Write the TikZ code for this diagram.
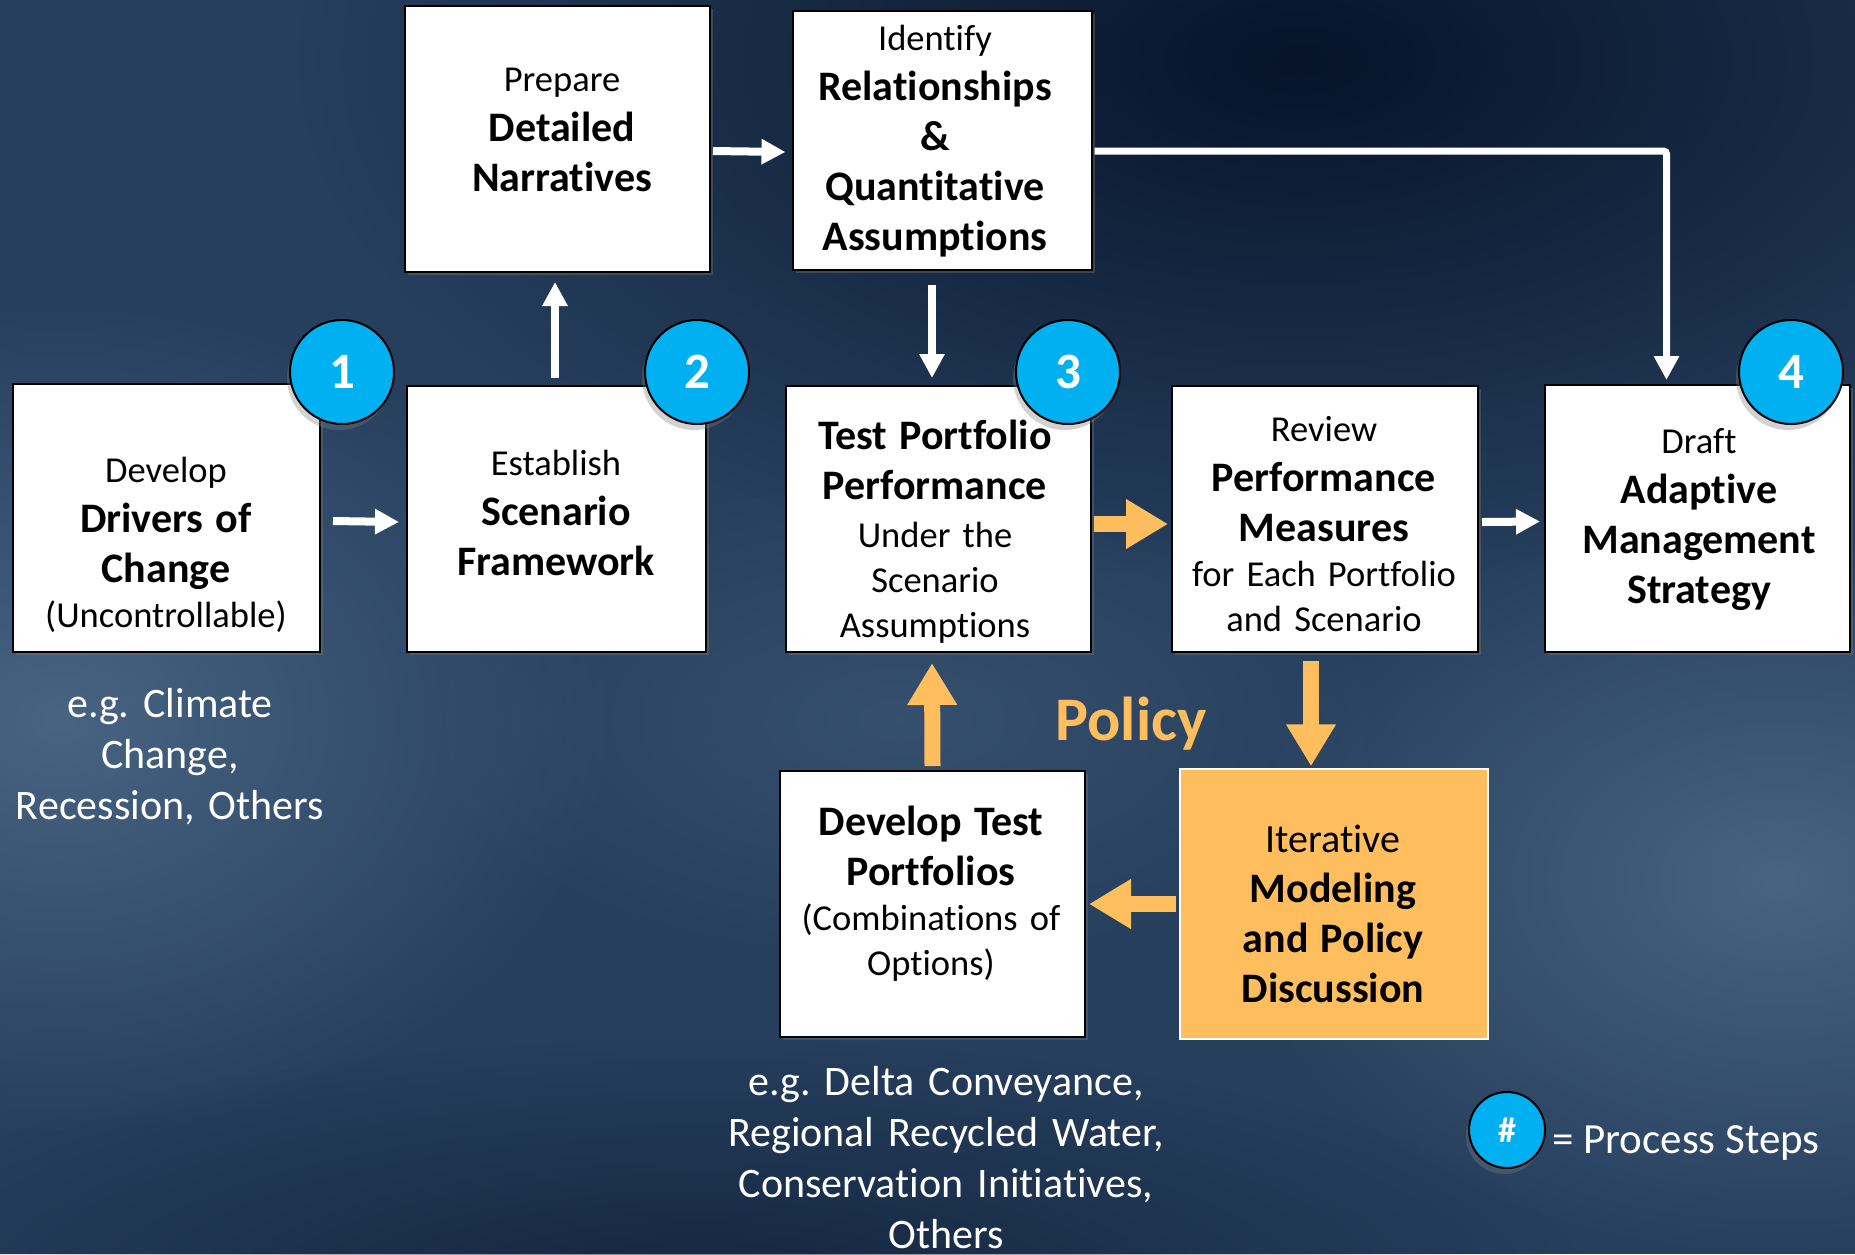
\documentclass[tikz,border=0pt]{standalone}
\usepackage{fontspec}
\setmainfont{Carlito}[Ligatures=NoCommon]
\usetikzlibrary{arrows.meta,shadows,fadings}
\definecolor{bgbase}{HTML}{263F5D}
\definecolor{bgdark}{HTML}{07142A}
\definecolor{bglight}{HTML}{4C6887}
\definecolor{pbblue}{HTML}{00B0F0}
\definecolor{porange}{HTML}{FFBE5E}
\tikzfading[name=softblob, inner color=transparent!0, outer color=transparent!100]
\newcommand\rgf{\mdseries\fontsize{36.5}{45}\selectfont}
\newcommand\rgbf{\mdseries\fontsize{40}{50}\selectfont}
\newcommand\bdf{\bfseries\fontsize{42}{50}\selectfont}
\newcommand\egf{\mdseries\fontsize{42}{51}\selectfont}
\frenchspacing
\begin{document}
\begin{tikzpicture}[x=1pt,y=-1pt,
  boxsty/.style={draw=black, line width=2pt, fill=white, inner sep=0pt,
    drop shadow={shadow xshift=3pt, shadow yshift=-3pt, opacity=0.35}},
  orbox/.style={draw=white, line width=1.5pt, fill=porange, inner sep=0pt},
  txt/.style={text width=300pt, align=center, inner sep=0pt, text=black, font=\rgf},
  wtxt/.style={text width=440pt, align=center, inner sep=0pt, text=white, font=\egf},
  badge/.style={circle, draw=black, line width=2pt, fill=pbblue, minimum size=104pt,
    inner sep=0pt, text=white, font=\bfseries\fontsize{51}{51}\selectfont,
    drop shadow={shadow xshift=-3pt, shadow yshift=-6pt, opacity=0.35}},
  warr/.style={draw=white, line width=8pt, -{Triangle[length=24pt,width=24pt]}},
  wline/.style={draw=white, line width=7pt, rounded corners=3pt, -{Triangle[length=24pt,width=24pt]}},
  oarr/.style={draw=porange, line width=16pt, -{Triangle[length=42pt,width=47pt]}}
]
% background
\useasboundingbox (0,0) rectangle (1855,1254);
\fill[bgbase] (0,0) rectangle (1855,1254);
\fill[bgdark, path fading=softblob] (1300,60) ellipse [x radius=1000, y radius=520];
\fill[bglight, path fading=softblob, opacity=0.9] (60,720) ellipse [x radius=560, y radius=420];
\fill[bglight, path fading=softblob, opacity=0.9] (1780,880) ellipse [x radius=560, y radius=380];
\fill[bgdark, path fading=softblob, opacity=0.6] (700,1300) ellipse [x radius=900, y radius=260];
\fill[bglight, path fading=softblob, opacity=0.4] (900,720) ellipse [x radius=500, y radius=250];

% boxes
\node[boxsty, minimum width=307pt, minimum height=268pt] (b1) at (166.5,518) {};
\node[boxsty, minimum width=305pt, minimum height=266pt] (prep) at (557.5,139) {};
\node[boxsty, minimum width=299pt, minimum height=259pt] (iden) at (942,140) {};
\node[boxsty, minimum width=299pt, minimum height=266pt] (b2) at (556.5,519) {};
\node[boxsty, minimum width=305pt, minimum height=266pt] (b3) at (938.5,519) {};
\node[boxsty, minimum width=306pt, minimum height=266pt] (rev) at (1325,519) {};
\node[boxsty, minimum width=305pt, minimum height=267pt] (b4) at (1697.5,518.5) {};
\node[boxsty, minimum width=305pt, minimum height=266pt] (dev) at (932.5,904) {};
\node[orbox, minimum width=308pt, minimum height=270pt] (iter) at (1334,904) {};

% box texts
\node[txt] (t1) at (166,545) {\rgf Develop\\\bdf Drivers of\\Change\\\rgf (Uncontrollable)};
\node[txt] (tprep) at (562,130) {\rgf Prepare\\\bdf Detailed\\Narratives\par};
\node[txt] (tiden) at (935,141) {\rgf Identify\\\bdf Relationships\\\&\\Quantitative\\Assumptions\par};
\node[txt] (t2) at (556,513) {\rgf Establish\\\bdf Scenario\\Framework\par};
\node[txt] (t3) at (935,532) {\bdf Test Portfolio\\Performance\\[3pt]\rgf Under the\\Scenario\\Assumptions};
\node[txt] (trev) at (1324,524) {\rgf Review\\\bdf Performance\\Measures\\\rgf for Each Portfolio\\and Scenario};
\node[txt] (t4) at (1699,520) {\rgf Draft\\\bdf Adaptive\\Management\\Strategy\par};
\node[txt] (tdev) at (931,894) {\bdf Develop Test\\Portfolios\\\rgf (Combinations of\\Options)};
\node[txt] (titer) at (1333,914) {\rgbf Iterative\\\bdf Modeling\\and Policy\\Discussion\par};

% badges
\node[badge] (c1) at (342,372) {1};
\node[badge] (c2) at (697,372) {2};
\node[badge] (c3) at (1068,372) {3};
\node[badge] (c4) at (1791,372) {4};

% free texts
\node[wtxt] (eg1) at (170,757) {e.g. Climate\\Change,\\Recession, Others};
\node[wtxt] (eg2) at (946,1158) {e.g. Delta Conveyance,\\Regional Recycled Water,\\Conservation Initiatives,\\Others};
\node[text=porange, font=\bfseries\fontsize{62}{62}\selectfont, inner sep=0pt] (pol) at (1131,724) {Policy};

% legend
\node[badge, minimum size=76pt, font=\bfseries\fontsize{36}{36}\selectfont] (leg) at (1507,1130) {\#};
\node[anchor=west, text=white, font=\mdseries\fontsize{43}{51}\selectfont, inner sep=0pt] (legt) at (1552,1143) {= Process Steps};

% white arrows
\draw[warr] ([xshift=12pt,yshift=-3pt]b1.east) -- ([xshift=-7pt,yshift=-3pt]b2.west);
\draw[warr] ([xshift=-1.5pt,yshift=7pt]b2.north) -- ([xshift=-2.5pt,yshift=-9pt]prep.south);
\draw[warr] ([xshift=2pt,yshift=-12pt]prep.east) -- ([xshift=-6pt,yshift=-12pt]iden.west);
\draw[warr] ([xshift=-10pt,yshift=-14pt]iden.south) -- ([xshift=-6.5pt,yshift=7pt]b3.north);
\draw[warr] ([xshift=3pt,yshift=-3pt]rev.east) -- ([xshift=-4pt,yshift=-3pt]b4.west);
\draw[wline] ([xshift=2pt,yshift=-11pt]iden.east) -| ([xshift=-31pt,yshift=4pt]b4.north);

% orange arrows
\draw[oarr] ([xshift=2pt,yshift=-5pt]b3.east) -- ([xshift=-3pt,yshift=-5pt]rev.west);
\draw[oarr] ([xshift=-14pt,yshift=-8pt]rev.south) -- ([xshift=-23pt,yshift=2pt]iter.north);
\draw[oarr] ([xshift=-3pt]iter.west) -- ([xshift=3pt]dev.east);
\draw[oarr] ([yshift=4pt]dev.north) -- ([xshift=-6.5pt,yshift=-10pt]b3.south);
\end{tikzpicture}
\end{document}
